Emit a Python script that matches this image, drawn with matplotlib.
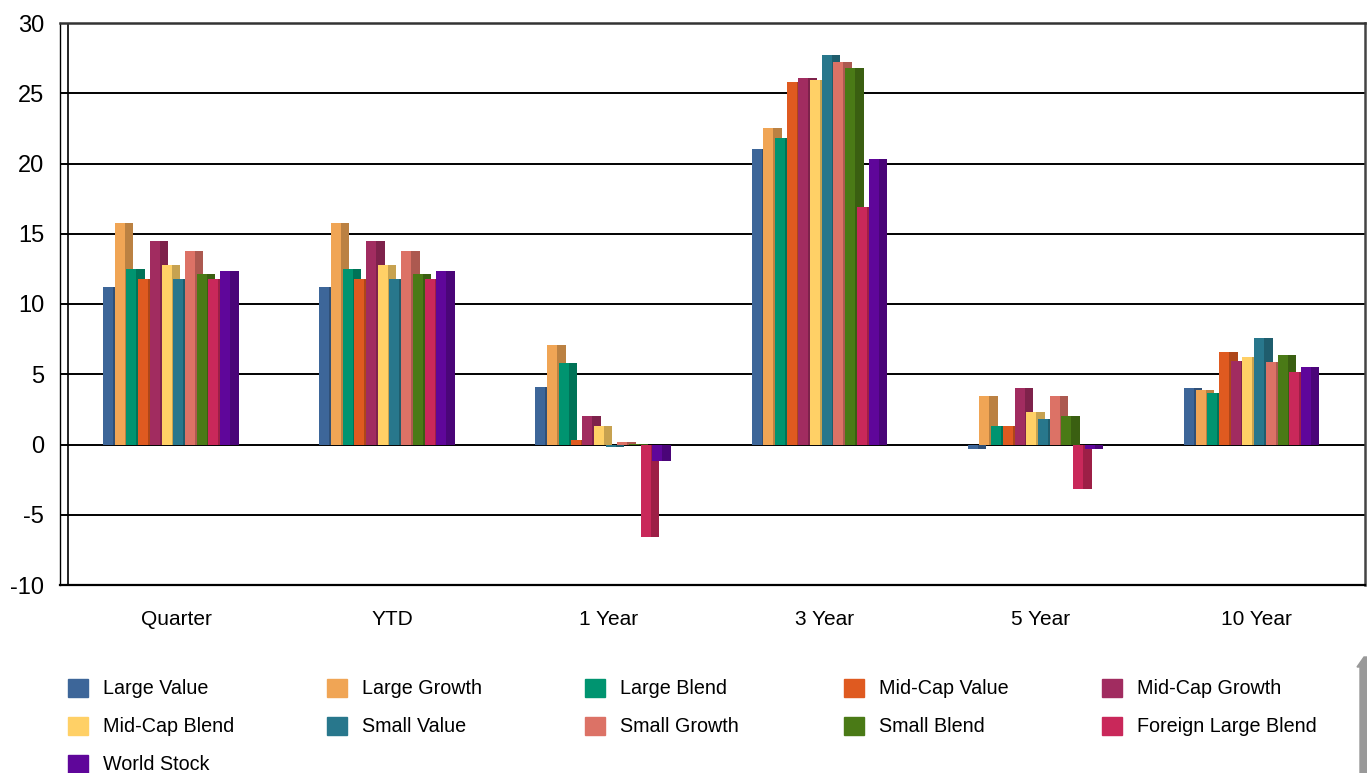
import numpy as np
import matplotlib
matplotlib.use("Agg")
import matplotlib.pyplot as plt
from matplotlib.colors import to_rgb
from matplotlib.patches import Rectangle, Polygon

plt.rcParams['font.family'] = ['Liberation Sans', 'DejaVu Sans']
plt.rcParams['axes.unicode_minus'] = False

periods = ["Quarter", "YTD", "1 Year", "3 Year", "5 Year", "10 Year"]
series = ["Large Value", "Large Growth", "Large Blend", "Mid-Cap Value", "Mid-Cap Growth",
          "Mid-Cap Blend", "Small Value", "Small Growth", "Small Blend",
          "Foreign Large Blend", "World Stock"]
colors = ["#3D6699", "#F0A555", "#009470", "#DF5A20", "#A12C60",
          "#FFD066", "#28778C", "#DC7266", "#4A7A16", "#C9285A", "#5F069A"]

# values per series, in order of periods
large_value = [11.2, 11.2, 4.1, 21.0, -0.3, 4.0]
large_growth = [15.75, 15.75, 7.1, 22.55, 3.45, 3.85]
large_blend = [12.5, 12.5, 5.8, 21.85, 1.3, 3.7]
midcap_value = [11.8, 11.8, 0.3, 25.8, 1.3, 6.55]
midcap_growth = [14.5, 14.5, 2.0, 26.1, 4.0, 5.95]
midcap_blend = [12.8, 12.8, 1.3, 25.95, 2.3, 6.25]
small_value = [11.8, 11.8, -0.2, 27.7, 1.85, 7.55]
small_growth = [13.8, 13.8, 0.15, 27.2, 3.45, 5.85]
small_blend = [12.1, 12.1, 0.05, 26.8, 2.0, 6.4]
foreign_large_blend = [11.8, 11.8, -6.55, 16.9, -3.15, 5.15]
world_stock = [12.35, 12.35, -1.2, 20.3, -0.3, 5.55]

values = [large_value, large_growth, large_blend, midcap_value, midcap_growth,
          midcap_blend, small_value, small_growth, small_blend,
          foreign_large_blend, world_stock]

W, H = 1367, 773
fig = plt.figure(figsize=(W / 100, H / 100), dpi=100)
ax = fig.add_axes([60 / W, 188 / H, 1305 / W, 562 / H])

px = 1297 / 6.0  # pixels per group
pitch = 11.7 / px
front = 10.0 / px
side = 8.5 / px
start = -73.0 / px

x = np.arange(len(periods)) + 0.5
for k, (vals, c) in enumerate(zip(values, colors)):
    pos = x + start + k * pitch
    dark = tuple(v * 0.78 for v in to_rgb(c))
    ax.bar(pos, vals, width=front, align='edge', color=c, zorder=3 + k * 0.01)
    ax.bar(pos + front, vals, width=side, align='edge', color=dark, zorder=3 + k * 0.01)

ax.set_xlim(-8 / px, 6)
ax.set_ylim(-10, 30)
ax.set_yticks(range(-10, 31, 5))
ax.set_xticks(x)
ax.set_xticklabels(periods, fontsize=15)
ax.tick_params(axis='y', length=0, pad=11.5, labelsize=17)
ax.tick_params(axis='x', length=0, pad=18)
ax.grid(axis='y', color='black', linewidth=1.4, zorder=1)
ax.set_axisbelow(True)
ax.axvline(0, color='black', linewidth=1.2, zorder=2)

ax.spines['left'].set_linewidth(1.0)
ax.spines['bottom'].set_linewidth(1.6)
ax.spines['top'].set_linewidth(1.8)
ax.spines['top'].set_color('#333333')
ax.spines['right'].set_linewidth(1.8)
ax.spines['right'].set_color('#444444')

# legend, laid out row by row
for idx, (name, c) in enumerate(zip(series, colors)):
    row, col = divmod(idx, 5)
    lx = 68 + col * 258.6
    ly = 688 + row * 38
    fig.patches.append(Rectangle((lx / W, 1 - (ly + 9) / H), 20 / W, 18 / H,
                                 transform=fig.transFigure, color=c))
    fig.text((lx + 35) / W, 1 - ly / H, name, fontsize=14.2, va='center', ha='left')

# grey marker at the bottom right
pts = [(1360, 773), (1360, 667), (1357, 667), (1364, 657), (1367, 657), (1367, 773)]
fig.patches.append(Polygon([(a / W, 1 - b / H) for a, b in pts],
                           transform=fig.transFigure, color='#999999'))

fig.savefig("out.png", dpi=100)
